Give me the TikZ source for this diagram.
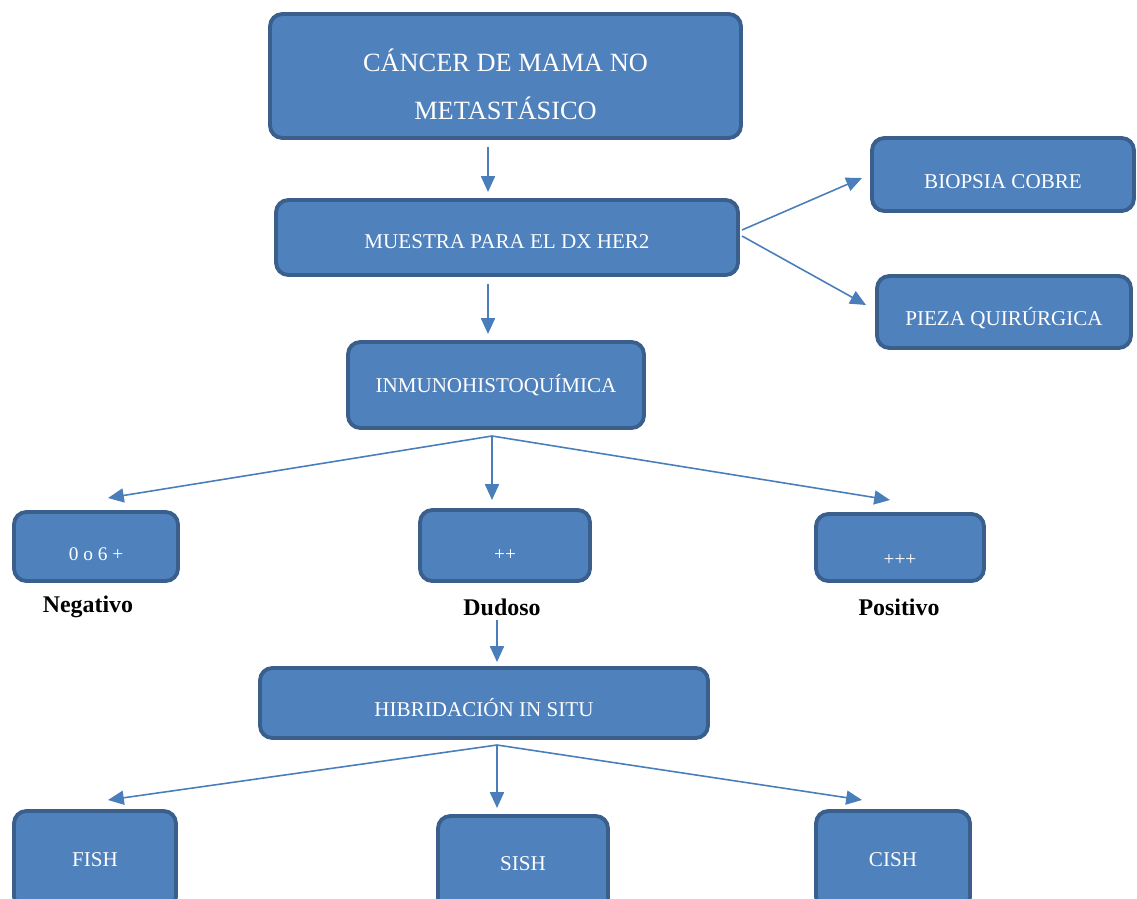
\documentclass[tikz,border=0pt]{standalone}
\usepackage{fontspec}
\setmainfont{Liberation Serif}
\usetikzlibrary{positioning,arrows.meta}
\usepackage{xcolor}
\definecolor{boxfill}{HTML}{4F81BD}
\definecolor{boxline}{HTML}{3A5F8C}
\definecolor{linkcol}{HTML}{4A7EBB}

\begin{document}
\begin{tikzpicture}[x=0.02cm, y=-0.02cm,
            box/.style={rectangle, rounded corners=7pt, draw=boxline, fill=boxfill, line width=2.2pt,
                        text=white, align=center, font=\fontsize{12}{14}\selectfont},
            low/.style={text height=#1, text depth=0pt},
            tag/.style={font=\fontsize{13.6}{15}\selectfont\bfseries},
            arrow/.style={-{Triangle[length=9pt,width=8pt]}, draw=linkcol, fill=linkcol, line width=0.9pt}
        ]
        \useasboundingbox (0,0) rectangle (1137,899);
        \clip (0,0) rectangle (1137,899);

        % Top of the chart
        \node[box, low=49pt, minimum width=9.42cm, minimum height=2.48cm, font=\fontsize{15}{27}\selectfont] (cancer) at (505.5,76) {CÁNCER DE MAMA NO\\METASTÁSICO};
        \node[box, low=13pt, minimum width=9.24cm, minimum height=1.5cm] (muestra) at (507,237.5) {MUESTRA PARA EL DX HER2};

        % Sample types
        \node[box, low=16.4pt, minimum width=5.24cm, minimum height=1.46cm] (biopsia) at (1003,174.5) {BIOPSIA COBRE};
        \node[box, low=15.8pt, minimum width=5.08cm, minimum height=1.44cm] (pieza) at (1004,312) {PIEZA QUIRÚRGICA};

        % Immunohistochemistry and its scores
        \node[box, minimum width=5.92cm, minimum height=1.72cm] (ihq) at (496,385) {INMUNOHISTOQUÍMICA};
        \node[box, low=16.5pt, minimum width=3.28cm, minimum height=1.38cm, font=\fontsize{11}{13}\selectfont] (neg) at (96,546.5) {0 o 6 +};
        \node[box, low=17pt, minimum width=3.4cm, minimum height=1.42cm, font=\fontsize{11}{13}\selectfont] (dud) at (505,545.5) {++};
        \node[box, low=20pt, minimum width=3.36cm, minimum height=1.34cm, font=\fontsize{11}{13}\selectfont] (pos) at (900,547.5) {+++};
        \node[tag] (negtag) at (88,607) {Negativo};
        \node[tag] (dudtag) at (502,607) {Dudoso};
        \node[tag] (postag) at (899,607) {Positivo};

        % In situ hybridisation
        \node[box, low=15.8pt, minimum width=8.96cm, minimum height=1.4cm] (ish) at (484,703) {HIBRIDACIÓN IN SITU};
        \node[box, minimum width=3.24cm, minimum height=1.96cm] (fish) at (95,860) {FISH};
        \node[box, minimum width=3.4cm, minimum height=1.92cm] (sish) at (523,864) {SISH};
        \node[box, minimum width=3.08cm, minimum height=1.96cm] (cish) at (893,860) {CISH};

        % Arrow ends
        \coordinate (cancer-out) at (488,147);
        \coordinate (muestra-in) at (488,192);
        \coordinate (muestra-out) at (488,284);
        \coordinate (ihq-in) at (488,334);
        \coordinate (muestra-r1) at (742,230);
        \coordinate (muestra-r2) at (742,236);
        \coordinate (biopsia-in) at (862,178);
        \coordinate (pieza-in) at (866,305);
        \coordinate (ihq-out) at (492,436);
        \coordinate (neg-in) at (108,498);
        \coordinate (dud-in) at (492,500);
        \coordinate (pos-in) at (890,500);
        \coordinate (dud-out) at (497,620);
        \coordinate (ish-in) at (497,662);
        \coordinate (ish-out) at (497,745);
        \coordinate (fish-in) at (108,800);
        \coordinate (sish-in) at (497,808);
        \coordinate (cish-in) at (862,800);

        % Connect the boxes
        \draw[arrow] (cancer-out) -- (muestra-in);
        \draw[arrow] (muestra-out) -- (ihq-in);
        \draw[arrow] (muestra-r1) -- (biopsia-in);
        \draw[arrow] (muestra-r2) -- (pieza-in);
        \draw[arrow] (ihq-out) -- (neg-in);
        \draw[arrow] (ihq-out) -- (dud-in);
        \draw[arrow] (ihq-out) -- (pos-in);
        \draw[arrow] (dud-out) -- (ish-in);
        \draw[arrow] (ish-out) -- (fish-in);
        \draw[arrow] (ish-out) -- (sish-in);
        \draw[arrow] (ish-out) -- (cish-in);

        \end{tikzpicture}
\end{document}
